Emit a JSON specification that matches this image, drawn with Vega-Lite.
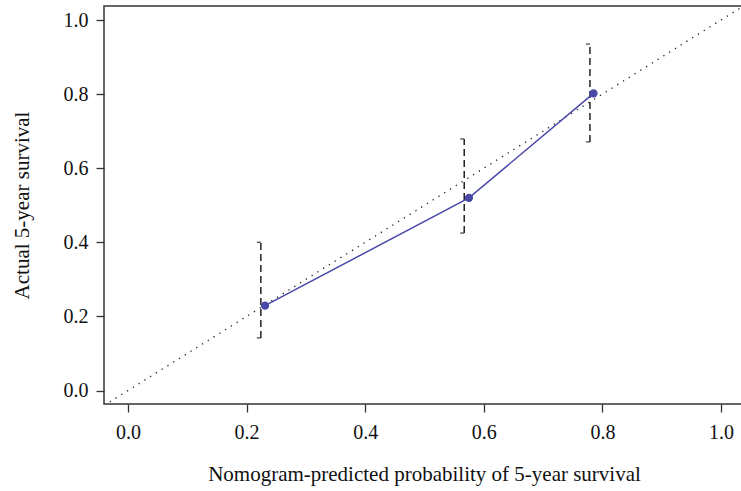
{
  "$schema": "https://vega.github.io/schema/vega-lite/v6.json",
  "autosize": "none",
  "width": 640,
  "height": 398,
  "padding": {"left": 104, "top": 6, "right": 0, "bottom": 87},
  "background": "white",
  "config": {
    "view": {"stroke": "#333333", "strokeWidth": 1.5},
    "axis": {
      "labelFont": "Liberation Serif",
      "titleFont": "Liberation Serif",
      "labelFontSize": 20,
      "titleFontSize": 21,
      "titleFontWeight": "normal",
      "labelColor": "#111111",
      "titleColor": "#111111",
      "grid": false,
      "domain": false,
      "tickColor": "#333333",
      "tickWidth": 1.3,
      "tickSize": 8
    }
  },
  "datasets": {
    "cal": [
      {"pred": 0.231, "obs": 0.229},
      {"pred": 0.575, "obs": 0.52},
      {"pred": 0.785, "obs": 0.802}
    ],
    "err": [
      {"x": 0.224, "lo": 0.142, "hi": 0.40},
      {"x": 0.567, "lo": 0.425, "hi": 0.679},
      {"x": 0.779, "lo": 0.671, "hi": 0.935}
    ],
    "ideal": [
      {"pred": -0.06, "obs": -0.06},
      {"pred": 1.06, "obs": 1.06}
    ]
  },
  "layer": [
    {
      "data": {"name": "ideal"},
      "mark": {"type": "line", "color": "#222222", "strokeWidth": 1.3, "strokeDash": [1.3, 5.5], "clip": true},
      "encoding": {
        "x": {
          "field": "pred", "type": "quantitative",
          "scale": {"domain": [-0.0405, 1.0388], "nice": false, "zero": false},
          "axis": {"values": [0, 0.2, 0.4, 0.6, 0.8, 1.0], "format": ".1f", "labelPadding": 10, "titlePadding": 21,
                   "title": "Nomogram-predicted probability of 5-year survival"}
        },
        "y": {
          "field": "obs", "type": "quantitative",
          "scale": {"domain": [-0.0364, 1.0378], "nice": false, "zero": false},
          "axis": {"values": [0, 0.2, 0.4, 0.6, 0.8, 1.0], "format": ".1f", "labelPadding": 8, "titlePadding": 31,
                   "title": "Actual 5-year survival"}
        }
      }
    },
    {
      "data": {"name": "err"},
      "mark": {"type": "rule", "color": "#222222", "strokeWidth": 1.5, "strokeDash": [7, 4]},
      "encoding": {
        "x": {"field": "x", "type": "quantitative"},
        "y": {"field": "lo", "type": "quantitative"},
        "y2": {"field": "hi"}
      }
    },
    {
      "data": {"name": "err"},
      "mark": {"type": "tick", "color": "#222222", "thickness": 1.5, "size": 4, "orient": "horizontal", "xOffset": -2},
      "encoding": {
        "x": {"field": "x", "type": "quantitative"},
        "y": {"field": "lo", "type": "quantitative"}
      }
    },
    {
      "data": {"name": "err"},
      "mark": {"type": "tick", "color": "#222222", "thickness": 1.5, "size": 4, "orient": "horizontal", "xOffset": -2},
      "encoding": {
        "x": {"field": "x", "type": "quantitative"},
        "y": {"field": "hi", "type": "quantitative"}
      }
    },
    {
      "data": {"name": "cal"},
      "mark": {"type": "line", "color": "#4848a8", "strokeWidth": 1.5},
      "encoding": {
        "x": {"field": "pred", "type": "quantitative"},
        "y": {"field": "obs", "type": "quantitative"}
      }
    },
    {
      "data": {"name": "cal"},
      "mark": {"type": "circle", "color": "#4848a8", "size": 68, "opacity": 1},
      "encoding": {
        "x": {"field": "pred", "type": "quantitative"},
        "y": {"field": "obs", "type": "quantitative"}
      }
    }
  ]
}
